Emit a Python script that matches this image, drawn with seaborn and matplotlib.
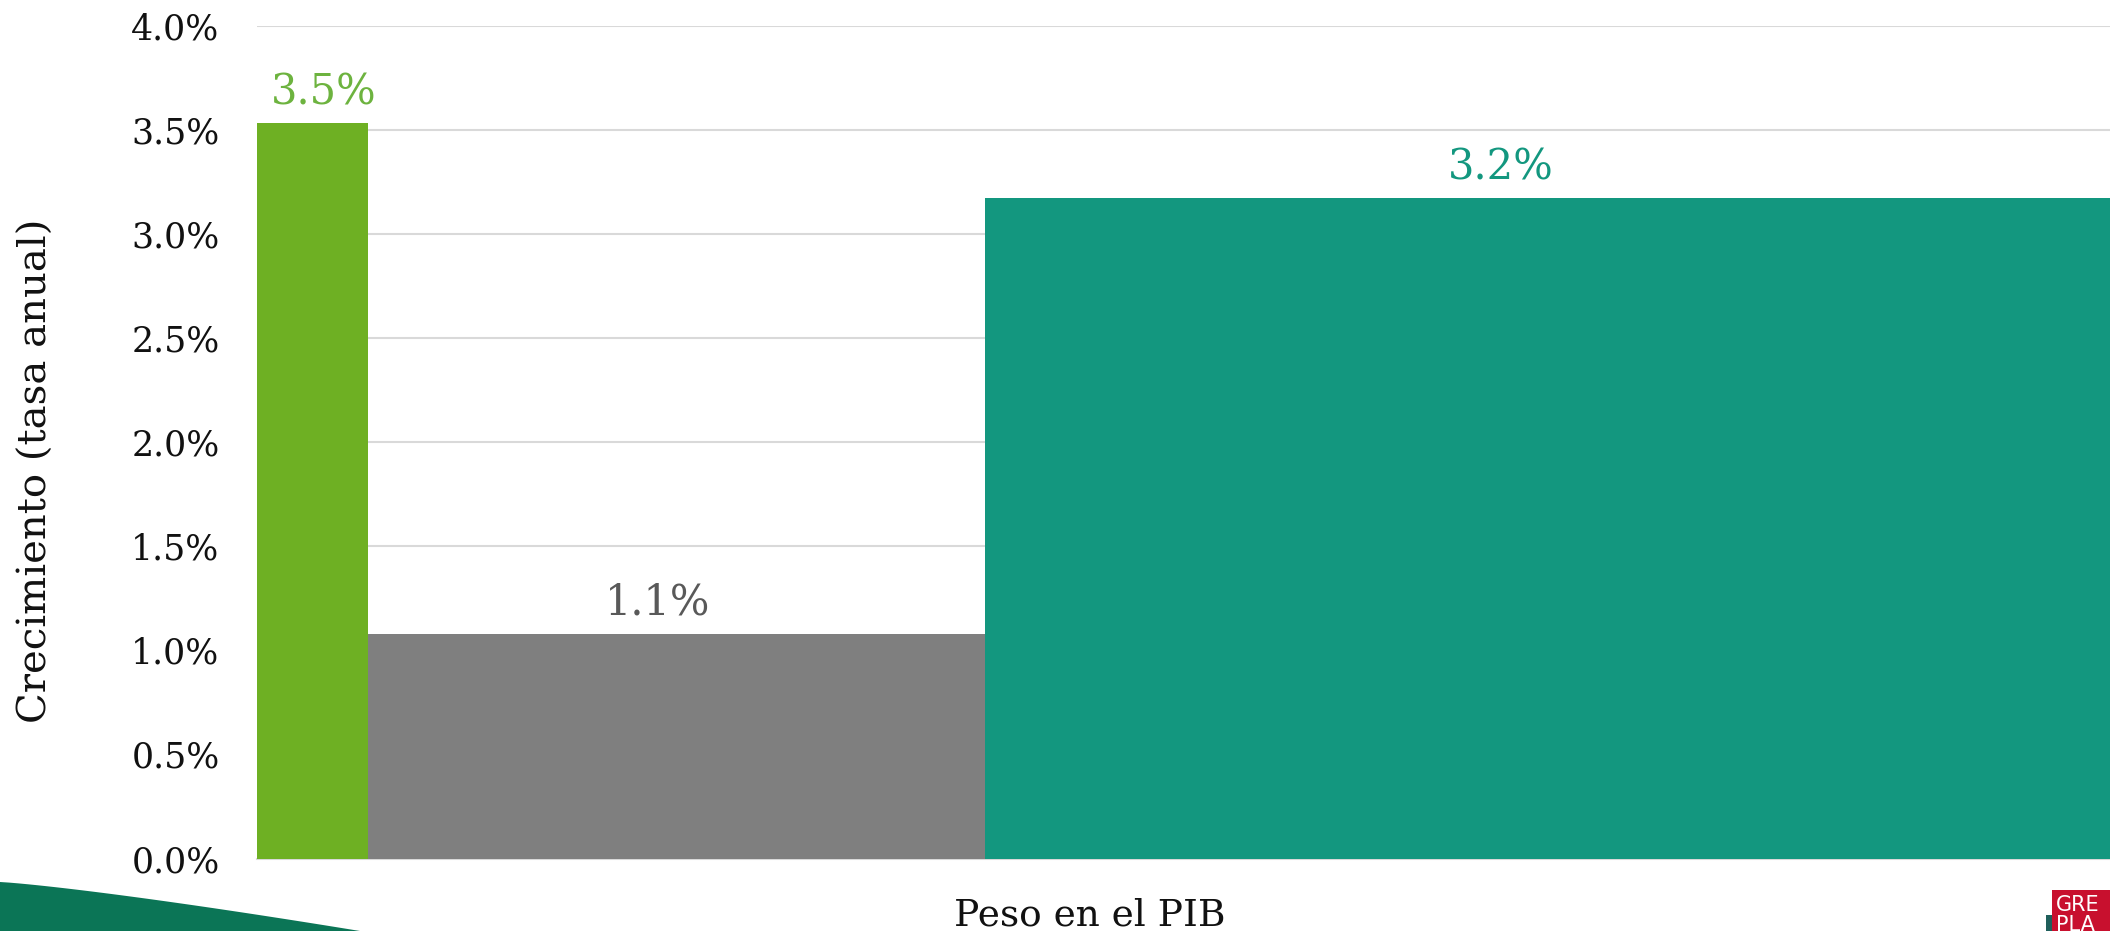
import numpy as np
import pandas as pd
import matplotlib
matplotlib.use("Agg")
import matplotlib.pyplot as plt
import seaborn as sns
from matplotlib.patches import Polygon, Rectangle

# ==========================
# DATA
# ==========================
sectores = ["Primario", "Secundario", "Terciario"]
peso_pib = [6.0, 33.3, 60.7]          # ancho de cada barra (% del PIB)
crecimiento = [3.53, 1.08, 3.17]      # altura (tasa anual, %)
etiquetas = ["3.5%", "1.1%", "3.2%"]

colores_barra = ["#6EB023", "#7F7F7F", "#13977F"]
colores_texto = ["#6DB33F", "#595959", "#13977F"]
desplaz_etiqueta = [8, -14, -34]      # ajuste horizontal de etiquetas (pt)

# ==========================
# STYLE
# ==========================
sns.set_theme(style="white")
plt.rcParams["font.family"] = ["DejaVu Serif", "DejaVu Sans"]

edges = [0.0] + list(np.cumsum(peso_pib))
mids = [(a + b) / 2 for a, b in zip(edges[:-1], edges[1:])]
df = pd.DataFrame({"sector": sectores, "mid": mids, "valor": crecimiento})

fig = plt.figure(figsize=(21.1, 9.31), dpi=100)
ax = fig.add_axes([257 / 2110, 1 - 858.6 / 931, 1 - 257 / 2110, (858.6 - 25.6) / 931])

# variable-width bars: histogram with explicit bin edges, weighted by growth
sns.histplot(
    data=df, x="mid", weights="valor", hue="sector", bins=[float(e) for e in edges],
    palette=dict(zip(sectores, colores_barra)), multiple="layer",
    element="bars", alpha=1, linewidth=0, legend=False, ax=ax, zorder=3,
)

ax.set_xlim(edges[0], edges[-1])
ax.set_ylim(0, 4.0)
ticks = np.arange(0, 4.01, 0.5)
ax.set_yticks(ticks)
ax.set_yticklabels([f"{v:.1f}%" for v in ticks])
ax.set_xticks([])
ax.tick_params(axis="y", length=0, pad=27, labelsize=25, labelcolor="#111111")
ax.grid(axis="y", color="#D9D9D9", linewidth=1.5, zorder=0)
ax.set_axisbelow(True)
for s in ["top", "right", "left"]:
    ax.spines[s].set_visible(False)
ax.spines["bottom"].set_color("#D9D9D9")
ax.spines["bottom"].set_linewidth(1.5)
ax.set_xlabel("")
ax.set_ylabel("")

for m, v, t, c, dx in zip(mids, crecimiento, etiquetas, colores_texto, desplaz_etiqueta):
    ax.annotate(t, (m, v), xytext=(dx, 7), textcoords="offset points",
                ha="center", va="bottom", fontsize=30, color=c, zorder=4)

fig.text(36 / 2110, 1 - 471 / 931, "Crecimiento (tasa anual)", rotation=90,
         ha="center", va="center", fontsize=29, color="#111111")
fig.text(1090 / 2110, 1 - 915 / 931, "Peso en el PIB", ha="center", va="center",
         fontsize=27, color="#111111")

# ==========================
# DECORATION (swoosh + logo)
# ==========================
t = np.linspace(0, 1, 40)
top_x = 360 * t
top_y = 882 + 49 * t ** 1.2
pts = np.column_stack([top_x, top_y])
pts = np.vstack([pts, [[360, 931], [0, 931]]])
pts[:, 0] /= 2110
pts[:, 1] = 1 - pts[:, 1] / 931
fig.patches.append(Polygon(pts, closed=True, transform=fig.transFigure,
                           facecolor="#0B7556", edgecolor="none"))

fig.patches.append(Rectangle((2052 / 2110, 0), 58 / 2110, 41 / 931,
                             transform=fig.transFigure, facecolor="#C8102E",
                             edgecolor="none"))
fig.patches.append(Rectangle((2046 / 2110, 0), 6 / 2110, 16 / 931,
                             transform=fig.transFigure, facecolor="#1F5F5B",
                             edgecolor="none"))
fig.text(2056 / 2110, 1 - 905 / 931, "GRE", fontsize=15, color="white",
         family="DejaVu Sans", va="center", ha="left")
fig.text(2056 / 2110, 1 - 925 / 931, "PLA", fontsize=15, color="white",
         family="DejaVu Sans", va="center", ha="left")

fig.savefig("out.png", dpi=100)
plt.close(fig)
